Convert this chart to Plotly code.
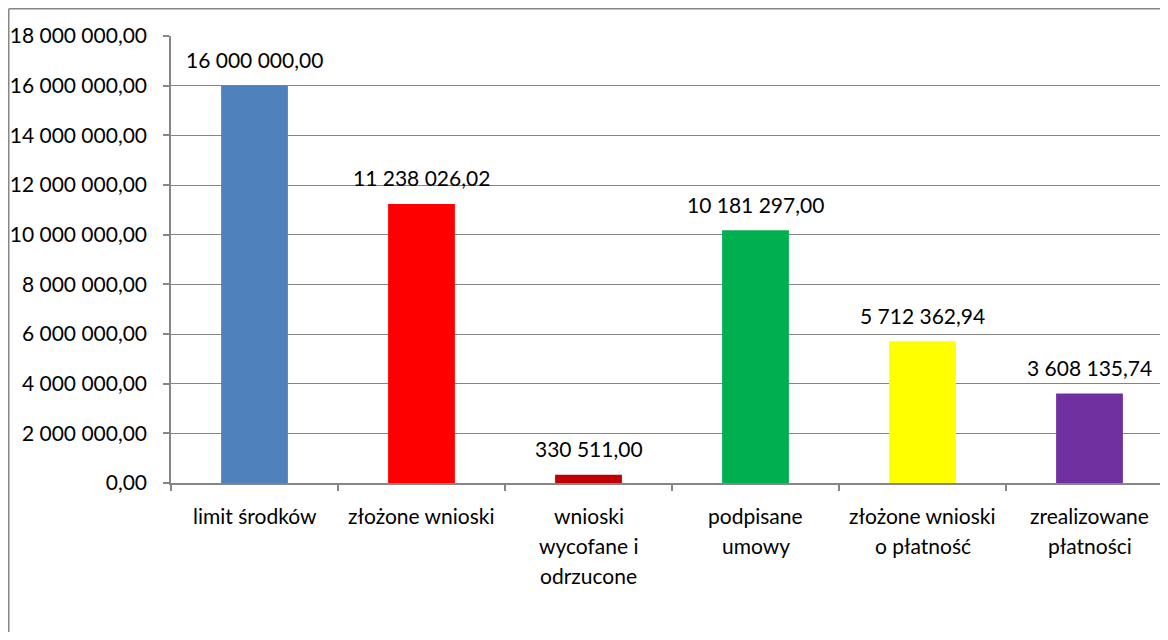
import plotly.graph_objects as go

categories = ["limit środków", "złożone wnioski", "wnioski wycofane i odrzucone",
              "podpisane umowy", "złożone wnioski o płatność", "zrealizowane płatności"]
label_lines = [["limit środków"], ["złożone wnioski"], ["wnioski", "wycofane i", "odrzucone"],
               ["podpisane", "umowy"], ["złożone wnioski", "o płatność"], ["zrealizowane", "płatności"]]
values = [16000000.00, 11238026.02, 330511.00, 10181297.00, 5712362.94, 3608135.74]
value_labels = ["16 000 000,00", "11 238 026,02", "330 511,00", "10 181 297,00", "5 712 362,94", "3 608 135,74"]
colors = ["#4F81BD", "#FF0000", "#C00000", "#00B050", "#FFFF00", "#7030A0"]
y_ticks = [0, 2e6, 4e6, 6e6, 8e6, 10e6, 12e6, 14e6, 16e6, 18e6]

FONT = "Lato"
FS = 21
GRAY = "#868686"

fig = go.Figure(go.Bar(x=categories, y=values, marker=dict(color=colors, line=dict(width=0)),
                       width=0.4, hoverinfo="skip"))

ann = []
for c, v, t in zip(categories, values, value_labels):
    ann.append(dict(x=c, y=v, xref="x", yref="y", text=t, showarrow=False,
                    yanchor="middle", yshift=26, font=dict(family=FONT, size=FS, color="#000")))
for c, lines in zip(categories, label_lines):
    for i, ln in enumerate(lines):
        ann.append(dict(x=c, y=0, xref="x", yref="y", text=ln, showarrow=False,
                        yanchor="middle", yshift=-32 - 30 * i, font=dict(family=FONT, size=FS, color="#000")))

# page body has an 8px margin; figure sized so the page does not scroll
FW, FH = 1152, 624
L, T, H = 163, 28, 447
W = FW - L
CAT_PX = 167
x_end = -0.5 + W / CAT_PX
bx = (0.75 - L) / W
by = 1 + (T - 0.75) / H
shapes = [
    dict(type="line", xref="paper", yref="paper", x0=bx, x1=1.05, y0=by, y1=by, line=dict(color=GRAY, width=1.5)),
    dict(type="line", xref="paper", yref="paper", x0=bx, x1=bx, y0=by, y1=-0.5, line=dict(color=GRAY, width=1.5)),
]

fig.update_layout(
    width=FW, height=FH,
    margin=dict(l=L, r=0, t=T, b=FH - T - H),
    paper_bgcolor="white", plot_bgcolor="white",
    separators=", ",
    showlegend=False,
    annotations=ann, shapes=shapes,
    font=dict(family=FONT, size=FS, color="#000"),
    xaxis=dict(range=[-0.5, x_end], showticklabels=False, showgrid=False, showline=True,
               linecolor=GRAY, linewidth=1.5, ticks="outside", tickson="boundaries",
               ticklen=6, tickcolor=GRAY, tickwidth=1.5, zeroline=False, fixedrange=True),
    yaxis=dict(range=[0, 18e6], tickvals=y_ticks, tickformat=",.2f", showgrid=True,
               gridcolor=GRAY, gridwidth=1, showline=True, linecolor=GRAY, linewidth=1.5,
               ticks="outside", ticklen=6, tickcolor=GRAY, tickwidth=1.5, zeroline=False,
               ticklabelstandoff=12, tickfont=dict(family=FONT, size=FS, color="#000")),
)

fig.write_html("out.html")
